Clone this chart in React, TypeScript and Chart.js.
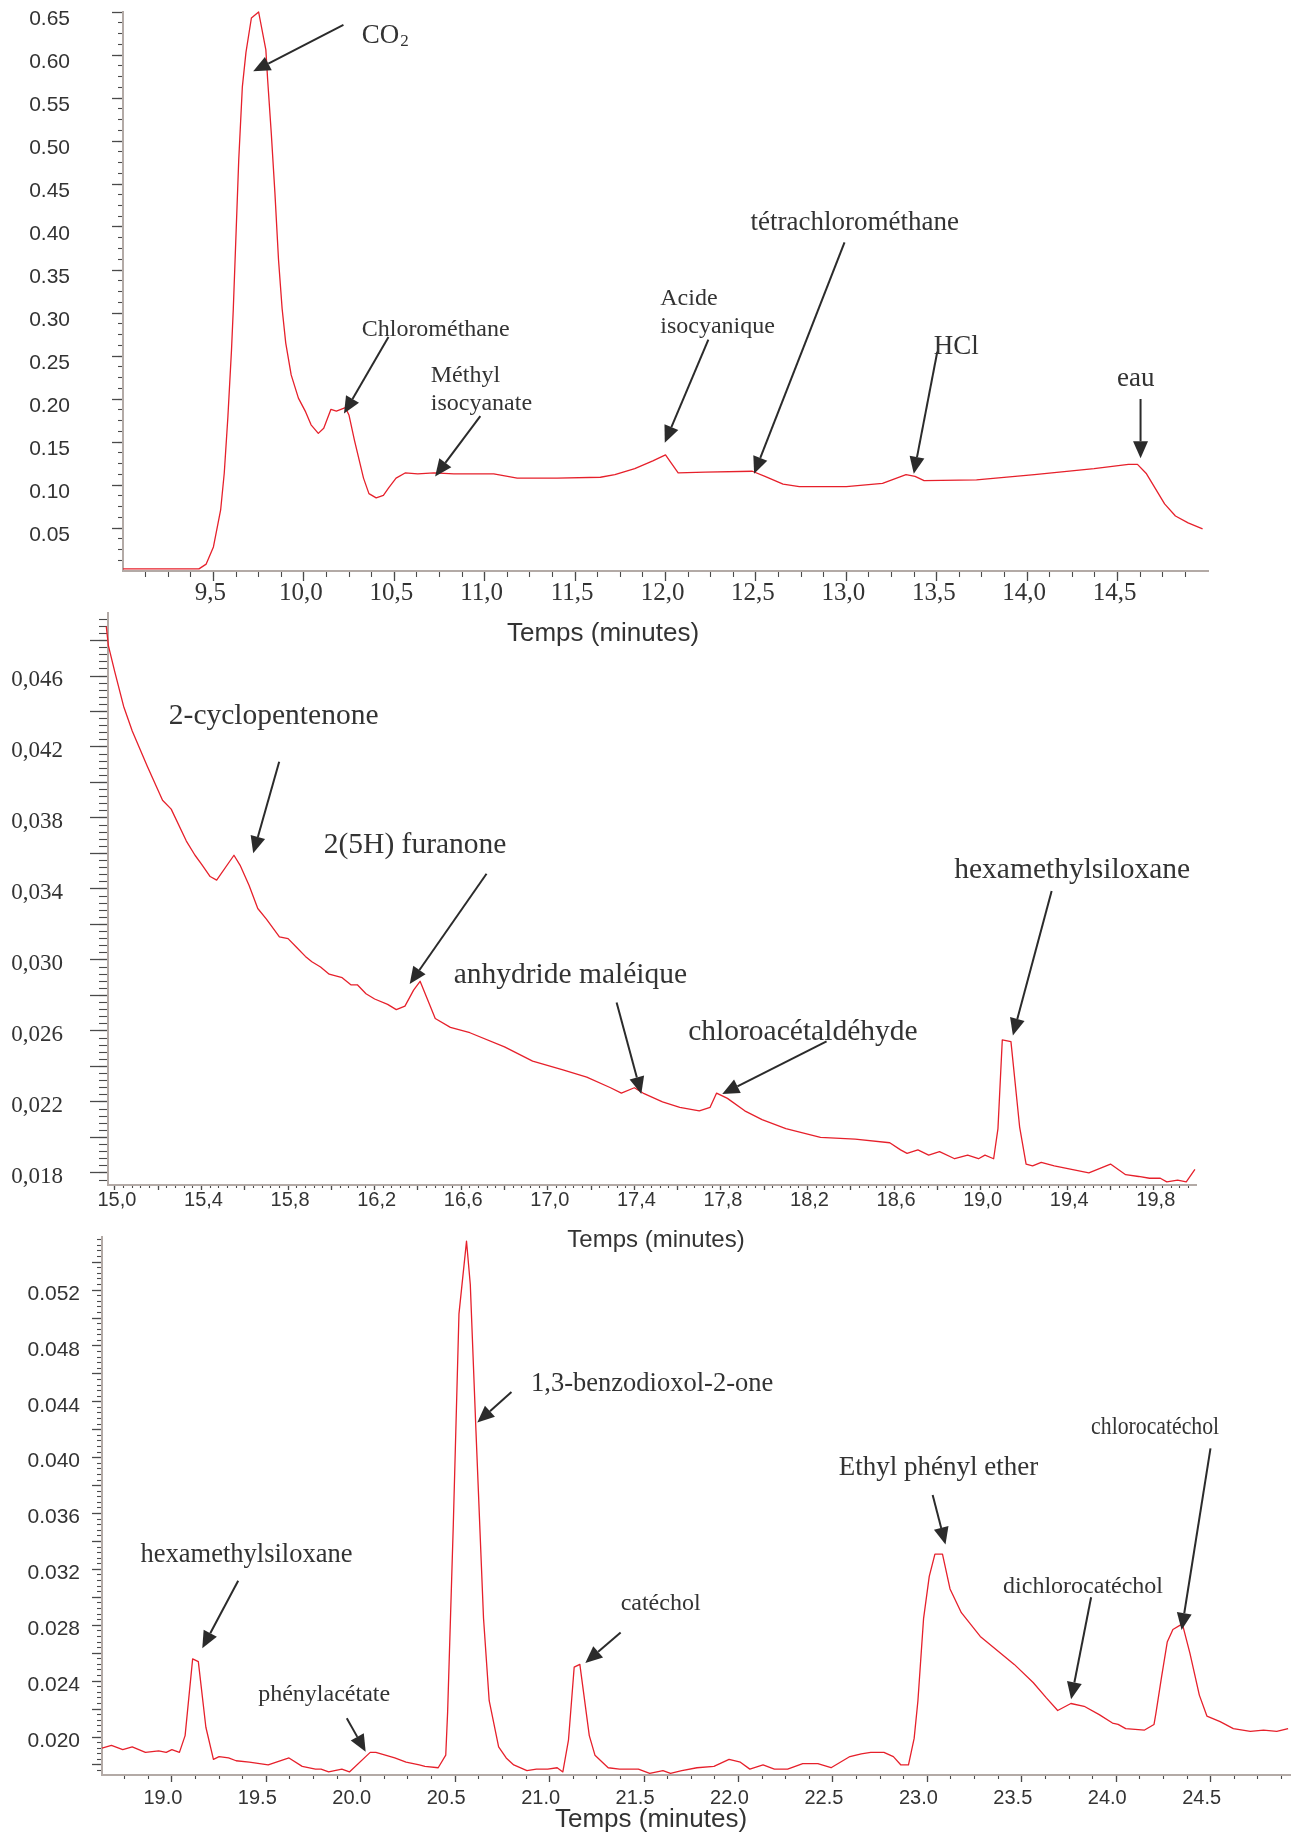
import React, { useEffect, useRef } from 'react';
import { Chart, registerables } from 'chart.js';

Chart.register(...registerables);

// ---------------- data (time in minutes, detector signal) ----------------
const P1_TIME = [9.0, 9.42, 9.46, 9.5, 9.54, 9.56, 9.58, 9.6, 9.61, 9.64, 9.66, 9.68, 9.71, 9.75, 9.79, 9.8, 9.82, 9.84, 9.86, 9.88, 9.9, 9.93, 9.97, 10.01, 10.04, 10.08, 10.11, 10.15, 10.18, 10.23, 10.25, 10.28, 10.33, 10.36, 10.4, 10.44, 10.47, 10.51, 10.56, 10.63, 10.72, 10.83, 11.05, 11.18, 11.4, 11.64, 11.72, 11.83, 11.93, 12.0, 12.03, 12.07, 12.22, 12.48, 12.55, 12.65, 12.74, 13.0, 13.2, 13.33, 13.38, 13.43, 13.72, 14.04, 14.37, 14.56, 14.61, 14.66, 14.76, 14.82, 14.89, 14.97];
const P1_SIGNAL = [0.0025, 0.0025, 0.008, 0.028, 0.071, 0.114, 0.179, 0.257, 0.305, 0.478, 0.563, 0.603, 0.643, 0.65, 0.606, 0.571, 0.509, 0.44, 0.362, 0.305, 0.265, 0.228, 0.201, 0.185, 0.17, 0.16, 0.166, 0.188, 0.186, 0.19, 0.181, 0.152, 0.108, 0.09, 0.085, 0.088, 0.097, 0.108, 0.114, 0.113, 0.114, 0.113, 0.113, 0.108, 0.108, 0.109, 0.112, 0.119, 0.128, 0.135, 0.126, 0.114, 0.115, 0.116, 0.11, 0.101, 0.098, 0.098, 0.102, 0.112, 0.11, 0.105, 0.106, 0.112, 0.119, 0.124, 0.124, 0.113, 0.078, 0.064, 0.056, 0.049];

const P2_TIME = [14.96, 14.97, 15.0, 15.04, 15.08, 15.15, 15.22, 15.26, 15.33, 15.37, 15.4, 15.44, 15.47, 15.55, 15.58, 15.62, 15.66, 15.7, 15.76, 15.8, 15.84, 15.88, 15.91, 15.95, 15.99, 16.02, 16.05, 16.09, 16.12, 16.16, 16.2, 16.26, 16.3, 16.34, 16.38, 16.41, 16.45, 16.48, 16.55, 16.64, 16.8, 16.93, 17.07, 17.18, 17.29, 17.34, 17.4, 17.44, 17.53, 17.61, 17.7, 17.75, 17.78, 17.83, 17.91, 17.99, 18.1, 18.26, 18.42, 18.58, 18.63, 18.66, 18.71, 18.76, 18.81, 18.88, 18.94, 18.99, 19.02, 19.06, 19.08, 19.1, 19.14, 19.18, 19.21, 19.24, 19.28, 19.34, 19.42, 19.5, 19.6, 19.67, 19.73, 19.78, 19.83, 19.86, 19.91, 19.95, 19.99];
const P2_SIGNAL = [0.0488, 0.0477, 0.0462, 0.0443, 0.0429, 0.0409, 0.039, 0.0385, 0.0367, 0.0359, 0.0354, 0.0347, 0.0345, 0.0359, 0.0353, 0.0342, 0.0329, 0.0323, 0.0313, 0.0312, 0.0307, 0.0302, 0.0299, 0.0296, 0.0292, 0.0291, 0.029, 0.0286, 0.0286, 0.0281, 0.0278, 0.0275, 0.0272, 0.0274, 0.0283, 0.0288, 0.0276, 0.0267, 0.0262, 0.0259, 0.0251, 0.0243, 0.0238, 0.0234, 0.0228, 0.0225, 0.0228, 0.0225, 0.022, 0.0217, 0.0215, 0.0217, 0.0225, 0.0222, 0.0215, 0.021, 0.0205, 0.02, 0.0199, 0.0197, 0.0193, 0.0191, 0.0193, 0.019, 0.0192, 0.0188, 0.019, 0.0188, 0.019, 0.0188, 0.0205, 0.0255, 0.0254, 0.0206, 0.0185, 0.0184, 0.0186, 0.0184, 0.0182, 0.018, 0.0185, 0.0179, 0.0178, 0.0177, 0.0177, 0.0175, 0.0176, 0.0175, 0.0182];

const P3_TIME = [18.63, 18.68, 18.74, 18.79, 18.86, 18.93, 18.97, 19.0, 19.04, 19.07, 19.11, 19.14, 19.18, 19.22, 19.25, 19.3, 19.34, 19.41, 19.51, 19.62, 19.69, 19.76, 19.79, 19.83, 19.9, 19.94, 20.05, 20.08, 20.13, 20.18, 20.24, 20.31, 20.34, 20.41, 20.45, 20.46, 20.49, 20.52, 20.56, 20.58, 20.61, 20.65, 20.68, 20.73, 20.77, 20.81, 20.88, 20.93, 20.99, 21.04, 21.07, 21.1, 21.13, 21.16, 21.21, 21.24, 21.31, 21.37, 21.47, 21.53, 21.6, 21.64, 21.7, 21.78, 21.87, 21.95, 22.01, 22.06, 22.13, 22.19, 22.26, 22.34, 22.42, 22.49, 22.59, 22.65, 22.7, 22.77, 22.82, 22.86, 22.9, 22.93, 22.95, 22.98, 23.01, 23.04, 23.08, 23.12, 23.18, 23.28, 23.37, 23.46, 23.56, 23.63, 23.69, 23.76, 23.83, 23.91, 23.98, 24.01, 24.05, 24.15, 24.2, 24.21, 24.24, 24.27, 24.3, 24.35, 24.39, 24.44, 24.48, 24.55, 24.62, 24.71, 24.78, 24.85, 24.91];
const P3_SIGNAL = [0.0192, 0.0194, 0.0191, 0.0193, 0.0189, 0.019, 0.0189, 0.0191, 0.0189, 0.0201, 0.0256, 0.0254, 0.0207, 0.0184, 0.0186, 0.0185, 0.0183, 0.0182, 0.018, 0.0185, 0.0179, 0.0177, 0.0177, 0.0175, 0.0177, 0.0175, 0.0189, 0.0189, 0.0187, 0.0185, 0.0182, 0.018, 0.0179, 0.0178, 0.0187, 0.0218, 0.0352, 0.0503, 0.0555, 0.0524, 0.0419, 0.0285, 0.0226, 0.0193, 0.0185, 0.018, 0.0176, 0.0177, 0.0177, 0.0178, 0.0175, 0.0198, 0.025, 0.0252, 0.0201, 0.0187, 0.0178, 0.0177, 0.0177, 0.0174, 0.0176, 0.0174, 0.0176, 0.0178, 0.0179, 0.0184, 0.0182, 0.0177, 0.018, 0.0177, 0.0177, 0.0181, 0.0181, 0.0178, 0.0186, 0.0188, 0.0189, 0.0189, 0.0186, 0.018, 0.018, 0.0199, 0.0226, 0.0285, 0.0315, 0.0331, 0.0331, 0.0306, 0.0289, 0.0272, 0.0262, 0.0252, 0.0239, 0.0228, 0.0219, 0.0224, 0.0222, 0.0216, 0.021, 0.0209, 0.0206, 0.0205, 0.0209, 0.0217, 0.0243, 0.0268, 0.0277, 0.0281, 0.026, 0.023, 0.0215, 0.0211, 0.0206, 0.0204, 0.0205, 0.0204, 0.0206];

// ---------------- tick labels ----------------
const P1_X_LABELS = [9.5, 10.0, 10.5, 11.0, 11.5, 12.0, 12.5, 13.0, 13.5, 14.0, 14.5];
const P1_Y_LABELS = [0.05, 0.1, 0.15, 0.2, 0.25, 0.3, 0.35, 0.4, 0.45, 0.5, 0.55, 0.6, 0.65];
const P2_X_LABELS = [15.0, 15.4, 15.8, 16.2, 16.6, 17.0, 17.4, 17.8, 18.2, 18.6, 19.0, 19.4, 19.8];
const P2_Y_LABELS = [0.018, 0.022, 0.026, 0.03, 0.034, 0.038, 0.042, 0.046];
const P3_X_LABELS = [19.0, 19.5, 20.0, 20.5, 21.0, 21.5, 22.0, 22.5, 23.0, 23.5, 24.0, 24.5];
const P3_Y_LABELS = [0.02, 0.024, 0.028, 0.032, 0.036, 0.04, 0.044, 0.048, 0.052];

// ---------------- peak annotations (text, text anchor, arrow start, arrow tip) in data units ----------------
type Note = { lines: string[]; sub?: string; at: [number, number]; from: [number, number]; to: [number, number] };

const P1_NOTES: Note[] = [
  { lines: ['CO'], sub: '2', at: [10.32, 0.622], from: [10.219, 0.635], to: [9.72, 0.581] },
  { lines: ['Chlorométhane'], at: [10.32, 0.281], from: [10.468, 0.272], to: [10.222, 0.183] },
  { lines: ['Méthyl', 'isocyanate'], at: [10.702, 0.227], from: [10.976, 0.18], to: [10.726, 0.11] },
  { lines: ['Acide', 'isocyanique'], at: [11.971, 0.317], from: [12.237, 0.269], to: [11.996, 0.149] },
  { lines: ['tétrachlorométhane'], at: [12.47, 0.405], from: [12.99, 0.382], to: [12.49, 0.113] },
  { lines: ['HCl'], at: [13.483, 0.26], from: [13.503, 0.255], to: [13.373, 0.113] },
  { lines: ['eau'], at: [14.497, 0.223], from: [14.627, 0.2], to: [14.627, 0.131] },
];
const P2_NOTES: Note[] = [
  { lines: ['2-cyclopentenone'], at: [15.249, 0.04375], from: [15.759, 0.04117], to: [15.639, 0.03601] },
  { lines: ['2(5H) furanone'], at: [15.965, 0.03645], from: [16.717, 0.03486], to: [16.362, 0.02865] },
  { lines: ['anhydride maléique'], at: [16.565, 0.02912], from: [17.318, 0.0276], to: [17.432, 0.02245] },
  { lines: ['chloroacétaldéhyde'], at: [17.649, 0.02594], from: [18.288, 0.02541], to: [17.806, 0.02245] },
  { lines: ['hexamethylsiloxane'], at: [18.878, 0.03507], from: [19.328, 0.03389], to: [19.149, 0.02575] },
];
const P3_NOTES: Note[] = [
  { lines: ['hexamethylsiloxane'], at: [18.834, 0.03303], from: [19.351, 0.03119], to: [19.161, 0.02635] },
  { lines: ['phénylacétate'], at: [19.457, 0.02301], from: [19.926, 0.02134], to: [20.026, 0.01895] },
  { lines: ['1,3-benzodioxol-2-one'], at: [20.902, 0.04528], from: [20.798, 0.0447], to: [20.617, 0.04251] },
  { lines: ['catéchol'], at: [21.376, 0.02952], from: [21.376, 0.02749], to: [21.189, 0.0253] },
  { lines: ['Ethyl phényl ether'], at: [22.531, 0.03926], from: [23.028, 0.03732], to: [23.096, 0.03379] },
  { lines: ['dichlorocatéchol'], at: [23.401, 0.03076], from: [23.867, 0.03001], to: [23.761, 0.02271] },
  { lines: ['chlorocatéchol'], at: [23.867, 0.04219], from: [24.499, 0.04067], to: [24.346, 0.02766] },
];

// ---------------- styling ----------------
const W = 1297;
const RED = '#e6202b';
const SANS = '"Liberation Sans", Arial, sans-serif';
const SERIF = '"Liberation Serif", "Times New Roman", serif';
const TICK_COLOR = '#4a4a4a';
const AXIS_COLOR = '#b3aaa6';
const TEXT_COLOR = '#333333';
const NOTE_SIZE: Record<string, number> = {
  CO: 27, 'tétrachlorométhane': 27, HCl: 27, eau: 27,
  'hexamethylsiloxane#3': 26.5, 'Ethyl phényl ether': 27, '1,3-benzodioxol-2-one': 26.5, 'chlorocatéchol': 25.5,
};
const NOTE_MAX_WIDTH: Record<string, number> = { 'chlorocatéchol': 128 };

const steps = (from: number, to: number, step: number) => {
  const out: number[] = [];
  const n = Math.round((to - from) / step);
  for (let i = 0; i <= n; i++) out.push(Math.round((from + i * step) * 1e6) / 1e6);
  return out;
};
const comma = (d: number) => (v: number) => v.toFixed(d).replace('.', ',');
const dot = (d: number) => (v: number) => v.toFixed(d);

interface AxisSpec {
  min: number; max: number;
  major: number[]; labels: number[]; minor: number[];
  fmt: (v: number) => string;
  font: string; size: number; padding: number; offset: number;
  tlMajor: number; tlMinor: number;
}
interface PanelSpec {
  key: string; top: number; height: number;
  area: { left: number; right: number; top: number; bottom: number };
  time: number[]; signal: number[];
  x: AxisSpec; y: AxisSpec;
  notes: Note[]; noteSize: number;
  title: { text: string; cx: number; cy: number; size: number };
}

const PANELS: PanelSpec[] = [
  {
    key: '1', top: 0, height: 660,
    area: { left: 123, right: 1208, top: 12, bottom: 571 },
    time: P1_TIME, signal: P1_SIGNAL,
    x: { min: 9.0, max: 15.0, major: P1_X_LABELS, labels: P1_X_LABELS, minor: steps(9.125, 14.875, 0.125), fmt: comma(1), font: SERIF, size: 25, padding: 0, offset: -3, tlMajor: 10, tlMinor: 6 },
    y: { min: 0, max: 0.65, major: P1_Y_LABELS, labels: P1_Y_LABELS, minor: steps(0.0125, 0.6375, 0.0125), fmt: dot(2), font: SANS, size: 21, padding: 42, offset: 7, tlMajor: 11, tlMinor: 5 },
    notes: P1_NOTES, noteSize: 24,
    title: { text: 'Temps (minutes)', cx: 603, cy: 634, size: 26 },
  },
  {
    key: '2', top: 600, height: 660,
    area: { left: 108, right: 1196, top: 613, bottom: 1185 },
    time: P2_TIME, signal: P2_SIGNAL,
    x: { min: 14.968, max: 19.995, major: steps(15.0, 19.8, 0.2), labels: P2_X_LABELS, minor: steps(15.0, 19.96, 0.04), fmt: comma(1), font: SANS, size: 20, padding: 0, offset: 2, tlMajor: 5, tlMinor: 3 },
    y: { min: 0.01732, max: 0.04955, major: steps(0.018, 0.048, 0.002), labels: P2_Y_LABELS, minor: steps(0.0176, 0.0492, 0.0004), fmt: comma(3), font: SERIF, size: 23, padding: 27, offset: 4, tlMajor: 18, tlMinor: 9 },
    notes: P2_NOTES, noteSize: 29.5,
    title: { text: 'Temps (minutes)', cx: 656, cy: 1240, size: 24 },
  },
  {
    key: '3', top: 1220, height: 619,
    area: { left: 102, right: 1290, top: 1237, bottom: 1775 },
    time: P3_TIME, signal: P3_SIGNAL,
    x: { min: 18.63, max: 24.92, major: P3_X_LABELS, labels: P3_X_LABELS, minor: steps(18.75, 24.875, 0.125), fmt: dot(1), font: SANS, size: 20, padding: 6, offset: -9, tlMajor: 7, tlMinor: 4 },
    y: { min: 0.01728, max: 0.0558, major: steps(0.018, 0.054, 0.002), labels: P3_Y_LABELS, minor: steps(0.0176, 0.0556, 0.0004), fmt: dot(3), font: SANS, size: 21, padding: 12, offset: 4, tlMajor: 10, tlMinor: 5 },
    notes: P3_NOTES, noteSize: 24,
    title: { text: 'Temps (minutes)', cx: 651, cy: 1820, size: 26 },
  },
];

function drawArrow(ctx: CanvasRenderingContext2D, x0: number, y0: number, x1: number, y1: number) {
  const ang = Math.atan2(y1 - y0, x1 - x0);
  const L = 17, H = 7.5;
  const bx = x1 - L * Math.cos(ang), by = y1 - L * Math.sin(ang);
  ctx.strokeStyle = '#2b2b2b';
  ctx.fillStyle = '#2b2b2b';
  ctx.lineWidth = 2;
  ctx.beginPath();
  ctx.moveTo(x0, y0);
  ctx.lineTo(bx, by);
  ctx.stroke();
  ctx.beginPath();
  ctx.moveTo(x1, y1);
  ctx.lineTo(bx + H * Math.sin(ang), by - H * Math.cos(ang));
  ctx.lineTo(bx - H * Math.sin(ang), by + H * Math.cos(ang));
  ctx.closePath();
  ctx.fill();
}

function overlayPlugin(p: PanelSpec) {
  return {
    id: 'overlay' + p.key,
    afterDraw(chart: any) {
      const ctx: CanvasRenderingContext2D = chart.ctx;
      const xs = chart.scales.x, ys = chart.scales.y;
      ctx.save();
      for (const n of p.notes) {
        drawArrow(ctx, xs.getPixelForValue(n.from[0]), ys.getPixelForValue(n.from[1]), xs.getPixelForValue(n.to[0]), ys.getPixelForValue(n.to[1]));
        const size = NOTE_SIZE[n.lines[0] + '#' + p.key] || NOTE_SIZE[n.lines[0]] || p.noteSize;
        const maxW = NOTE_MAX_WIDTH[n.lines[0]];
        const px = xs.getPixelForValue(n.at[0]);
        const py = ys.getPixelForValue(n.at[1]);
        ctx.fillStyle = TEXT_COLOR;
        ctx.textAlign = 'left';
        ctx.textBaseline = 'middle';
        n.lines.forEach((line, i) => {
          ctx.font = `${size}px ${SERIF}`;
          const ly = py + i * size * 1.17;
          if (maxW) ctx.fillText(line, px, ly, maxW);
          else ctx.fillText(line, px, ly);
          if (n.sub && i === 0) {
            const w = ctx.measureText(line).width;
            ctx.font = `${Math.round(size * 0.62)}px ${SERIF}`;
            ctx.fillText(n.sub, px + w + 1, ly + size * 0.22);
          }
        });
      }
      ctx.font = `${p.title.size}px ${SANS}`;
      ctx.fillStyle = TEXT_COLOR;
      ctx.textAlign = 'center';
      ctx.textBaseline = 'middle';
      ctx.fillText(p.title.text, p.title.cx, p.title.cy - p.top);
      ctx.restore();
    },
  };
}

function zeroPadding(s: any) {
  s.paddingTop = 0;
  s.paddingBottom = 0;
  s.paddingLeft = 0;
  s.paddingRight = 0;
}

function axisPair(id: string, a: AxisSpec, horizontal: boolean, fitSize: number) {
  const isLabel = (v: number) => a.labels.some((l) => Math.abs(l - v) < 1e-7);
  const common = { type: 'linear', axis: horizontal ? 'x' : 'y', position: horizontal ? 'bottom' : 'left', min: a.min, max: a.max, bounds: 'data' };
  const major = {
    ...common,
    weight: 1,
    afterBuildTicks: (s: any) => { s.ticks = a.major.map((v) => ({ value: v })); },
    afterFit: (s: any) => {
      if (horizontal) s.height = fitSize; else s.width = fitSize;
      zeroPadding(s);
    },
    grid: { display: true, drawOnChartArea: false, drawTicks: true, tickLength: a.tlMajor, tickColor: TICK_COLOR, tickWidth: 1.3 },
    border: { display: true, color: AXIS_COLOR, width: 2 },
    ticks: {
      autoSkip: false, maxRotation: 0, minRotation: 0, padding: a.padding, labelOffset: a.offset,
      color: TEXT_COLOR, font: { family: a.font, size: a.size, lineHeight: 1 },
      callback: (v: any) => (isLabel(Number(v)) ? a.fmt(Number(v)) : ''),
    },
  };
  const minor = {
    ...common,
    weight: 0,
    afterBuildTicks: (s: any) => { s.ticks = a.minor.map((v) => ({ value: v })); },
    afterFit: (s: any) => {
      if (horizontal) s.height = 0; else s.width = 0;
      zeroPadding(s);
    },
    grid: { display: true, drawOnChartArea: false, drawTicks: true, tickLength: a.tlMinor, tickColor: TICK_COLOR, tickWidth: 1.1 },
    border: { display: false },
    ticks: { autoSkip: false, maxRotation: 0, minRotation: 0, padding: 0, font: { size: 1, lineHeight: 1 }, callback: () => '' },
  };
  return { [id]: major, [id + 'Minor']: minor };
}

function buildConfig(p: PanelSpec): any {
  const localBottom = p.area.bottom - p.top;
  return {
    type: 'line',
    data: {
      datasets: [{
        data: p.time.map((t, i) => ({ x: t, y: p.signal[i] })),
        xAxisID: 'x', yAxisID: 'y',
        borderColor: RED, borderWidth: 1.3, pointRadius: 0, fill: false, tension: 0,
        borderJoinStyle: 'round', clip: false,
      }],
    },
    options: {
      responsive: false, maintainAspectRatio: false, animation: false, devicePixelRatio: 1, events: [],
      layout: { padding: { left: 0, top: p.area.top - p.top, right: W - p.area.right, bottom: 0 } },
      plugins: { legend: { display: false }, tooltip: { enabled: false }, title: { display: false } },
      scales: {
        ...axisPair('x', p.x, true, p.height - localBottom),
        ...axisPair('y', p.y, false, p.area.left),
      },
    },
    plugins: [overlayPlugin(p)],
  };
}

function Panel({ spec }: { spec: PanelSpec }) {
  const ref = useRef<HTMLCanvasElement>(null);
  useEffect(() => {
    const chart = new Chart(ref.current as HTMLCanvasElement, buildConfig(spec));
    return () => chart.destroy();
  }, [spec]);
  return (
    <canvas
      ref={ref}
      width={W}
      height={spec.height}
      style={{ position: 'absolute', left: 0, top: spec.top, width: W, height: spec.height }}
    />
  );
}

export default function App() {
  return (
    <div style={{ position: 'absolute', left: 0, top: 0, width: W, height: 1839, background: '#ffffff', overflow: 'hidden' }}>
      {PANELS.map((p) => (
        <Panel key={p.key} spec={p} />
      ))}
    </div>
  );
}
